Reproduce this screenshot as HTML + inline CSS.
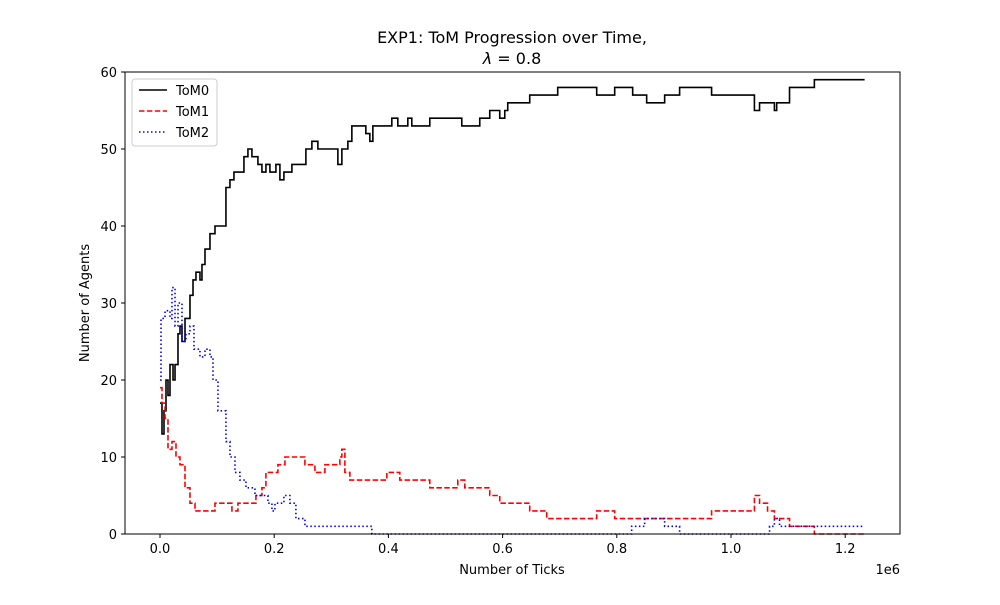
<!DOCTYPE html>
<html><head><meta charset="utf-8"><style>
body{margin:0;background:#fff;font-family:"Liberation Sans","DejaVu Sans",sans-serif}
svg text{font-family:"DejaVu Sans","Liberation Sans",sans-serif;font-size:13px;fill:#000}
</style></head><body>
<svg id="chart" width="1000" height="600" viewBox="0 0 1000 600" xmlns="http://www.w3.org/2000/svg">
<rect width="1000" height="600" fill="#fff"/>
<text x="512" y="43" text-anchor="middle" style="font-size:16px">EXP1: ToM Progression over Time,</text>
<text x="512" y="64" text-anchor="middle" style="font-size:16px"><tspan font-style="italic">λ</tspan> = 0.8</text>
<g id="plot"></g>
<rect x="125" y="72" width="775" height="462" fill="none" stroke="#000" stroke-width="1"/>
<g id="axes"></g>
<text x="512" y="574" text-anchor="middle">Number of Ticks</text>
<text x="900" y="574" text-anchor="end">1e6</text>
<text x="89" y="303" text-anchor="middle" transform="rotate(-90 89 303)">Number of Agents</text>
<g>
<rect x="132" y="79" width="85" height="67" rx="3" fill="#fff" stroke="#ccc"/>
<line x1="139" y1="90" x2="167" y2="90" stroke="#000" stroke-width="1.5"/>
<text x="176" y="95">ToM0</text>
<line x1="139" y1="111" x2="167" y2="111" stroke="#f00" stroke-width="1.5" stroke-dasharray="5.5,2.4"/>
<text x="176" y="116">ToM1</text>
<line x1="139" y1="132" x2="167" y2="132" stroke="#00f" stroke-width="1.5" stroke-dasharray="1.5,2.5"/>
<text x="176" y="137">ToM2</text>
</g>
</svg>
<script>
const tom0T=[0,3.5,7,10.5,14,17.5,22.8,26.3,31.5,35,38.5,43.8,52.5,57.8,63,70,73.5,78.8,87.5,96.3,105,115.5,122.5,129.5,140,147,154,161,171.5,178.5,185.5,192.5,203,210,217,224,231,245,255.5,266,276.5,304.5,311.5,318.5,329,336,350,360.5,367.5,372.8,399,406,416.5,434,441,472.5,525,528.5,551.3,560,577.5,595,603.8,609,647.5,696.5,764.8,796.3,827.8,852.3,883.8,910,966,1041,1050,1076,1080,1102.5,1146,1234];
const tom0V=[17,13,16,20,18,22,20,22,26,27,25,28,31,33,34,33,35,37,39,40,40,45,46,47,47,49,50,49,48,47,48,47,48,46,47,47,48,48,50,51,50,50,48,50,51,53,53,52,51,53,53,54,53,54,53,54,54,53,53,54,55,54,55,56,57,58,57,58,57,56,57,58,57,55,56,55,56,58,59,59];
const tom1T=[0,3.5,8.8,14,21,28,35,43.8,52.5,61.3,91,96.3,122.5,126,136.5,157.5,168,178.5,185.5,201.3,206.5,218.8,253.8,271.3,288.8,306.3,315,318.5,323.8,332.5,350,397.3,420,472.5,521.5,533.8,560,577.5,595,647.5,677.3,764.8,796.3,966,1041,1050,1064,1076,1102.5,1146,1234];
const tom1V=[19,17,15,11,12,10,9,6,4,3,3,4,4,3,4,4,5,6,8,8,9,10,9,8,9,9,10,11,8,7,7,8,7,6,7,6,6,5,4,3,2,3,2,3,5,4,3,2,1,0,0];
const tom2T=[0,1.8,8.8,17.5,21,26.3,31.5,38.5,45.5,52.5,59.5,70,78.8,87.5,92.8,101.5,110.3,115.5,122.5,131.3,140,150.5,166.3,178.5,189,196,201.3,217,227.5,238,253.8,364,371,826,848.8,883.8,910,1067.5,1076,1085,1234];
const tom2V=[20,28,29,28,32,27,30,25,26,27,24,23,24,23,20,16,16,12,10,8,7,6,5,5,4,3,4,5,4,2,1,1,0,1,2,1,0,1,2,1,1];
const xTicks=[0,0.2,0.4,0.6,0.8,1.0,1.2];
const xTickLabels=["0.0","0.2","0.4","0.6","0.8","1.0","1.2"];
const yTicks=[0,10,20,30,40,50,60];
const NS="http://www.w3.org/2000/svg";
function xs(t){return 160+t/1000*571;}
function ys(v){return 534-v*7.7;}
function stepPath(T,V){let d="M"+xs(T[0])+","+ys(V[0]);for(let i=1;i<T.length;i++){d+="H"+xs(T[i])+"V"+ys(V[i]);}return d;}
const plot=document.getElementById('plot');
function addLine(T,V,color,dash,name){const p=document.createElementNS(NS,'path');p.setAttribute('d',stepPath(T,V));p.setAttribute('fill','none');p.setAttribute('stroke',color);p.setAttribute('stroke-width','1.6');if(dash)p.setAttribute('stroke-dasharray',dash);


plot.appendChild(p);}
addLine(tom0T,tom0V,'#000',null,'tom0-line');
addLine(tom1T,tom1V,'#f00','5.5,2.4','tom1-line');
addLine(tom2T,tom2V,'#00f','1.5,2.5','tom2-line');
const axes=document.getElementById('axes');
xTicks.forEach((t,i)=>{const x=xs(t*1000);const l=document.createElementNS(NS,'line');l.setAttribute('x1',x);l.setAttribute('x2',x);l.setAttribute('y1',534);l.setAttribute('y2',538);l.setAttribute('stroke','#000');


axes.appendChild(l);const tx=document.createElementNS(NS,'text');tx.setAttribute('x',x);tx.setAttribute('y',553);tx.setAttribute('text-anchor','middle');tx.textContent=xTickLabels[i];


axes.appendChild(tx);});
yTicks.forEach(v=>{const y=ys(v);const l=document.createElementNS(NS,'line');l.setAttribute('x1',121);l.setAttribute('x2',125);l.setAttribute('y1',y);l.setAttribute('y2',y);l.setAttribute('stroke','#000');


axes.appendChild(l);const tx=document.createElementNS(NS,'text');tx.setAttribute('x',117);tx.setAttribute('y',y+5);tx.setAttribute('text-anchor','end');tx.textContent=v;


axes.appendChild(tx);});
</script>
</body></html>
